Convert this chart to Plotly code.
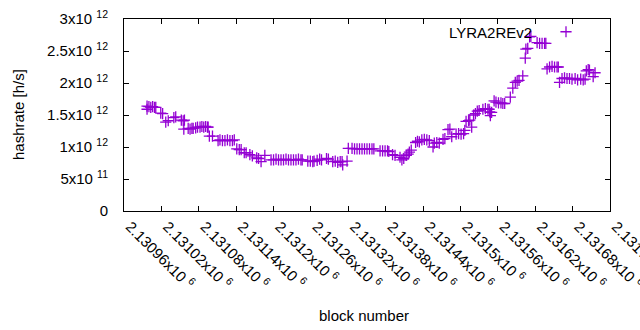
import plotly.graph_objects as go

# ---- data (block number, hashrate in units of 1e12 h/s) ----
blocks = [
    2130997, 2130997, 2131000, 2131003, 2131006, 2131009, 2131011,
    2131019, 2131022,
    2131027, 2131031,
    2131040, 2131043,
    2131052, 2131055, 2131057,
    2131056, 2131063, 2131066, 2131069, 2131071, 2131075, 2131078,
    2131082, 2131085, 2131088, 2131091, 2131094, 2131095,
    2131097, 2131102,
    2131111, 2131114, 2131118, 2131122, 2131126, 2131130, 2131134, 2131137,
    2131141, 2131145, 2131148,
    2131153, 2131156,
    2131162, 2131166,
    2131173, 2131176, 2131180,
    2131186,
    2131196, 2131200, 2131204, 2131208, 2131212, 2131216, 2131220, 2131224,
    2131228, 2131232, 2131236, 2131240, 2131244, 2131246,
    2131255, 2131259, 2131263, 2131265,
    2131270, 2131274, 2131277,
    2131285, 2131288, 2131295, 2131299, 2131303, 2131307, 2131310, 2131311, 2131318,
    2131320, 2131326, 2131330, 2131334, 2131338, 2131342, 2131346, 2131350,
    2131354, 2131358, 2131361,
    2131371, 2131375, 2131379, 2131383, 2131385,
    2131391, 2131395,
    2131403, 2131406, 2131409,
    2131413, 2131416, 2131418, 2131421,
    2131428, 2131431, 2131434,
    2131438, 2131442, 2131446, 2131450,
    2131456, 2131458, 2131462, 2131466,
    2131472, 2131475,
    2131480, 2131483,
    2131486, 2131493, 2131497, 2131501, 2131505,
    2131507,
    2131518,
    2131509, 2131513, 2131515,
    2131521, 2131524,
    2131527, 2131530,
    2131536, 2131540, 2131544, 2131546,
    2131547, 2131550, 2131548,
    2131554,
    2131557, 2131561, 2131565, 2131568, 2131571,
    2131580, 2131584,
    2131588, 2131591, 2131594,
    2131600, 2131604, 2131605, 2131608, 2131611, 2131613,
    2131623, 2131627, 2131631, 2131635, 2131637,
    2131639, 2131643, 2131647, 2131651, 2131655, 2131657,
    2131659, 2131663, 2131667, 2131671, 2131675, 2131679, 2131684,
    2131688, 2131693, 2131697, 2131700,
    2131702, 2131705, 2131707,
    2131713, 2131716,
]

hashrate_e12 = [
    1.64, 1.59, 1.63, 1.62, 1.63, 1.62, 1.62,
    1.53, 1.52,
    1.39, 1.41,
    1.46, 1.47,
    1.42, 1.41, 1.42,
    1.28, 1.29, 1.28, 1.29, 1.29, 1.30, 1.31,
    1.31, 1.32, 1.31, 1.32, 1.31, 1.31,
    1.17, 1.17,
    1.10, 1.11, 1.10, 1.10, 1.11, 1.10, 1.10, 1.11,
    0.97, 0.96, 0.96,
    0.91, 0.91,
    0.88, 0.86,
    0.83, 0.82, 0.77,
    0.87,
    0.80, 0.80, 0.81, 0.80, 0.80, 0.80, 0.81, 0.80,
    0.80, 0.80, 0.80, 0.81, 0.80, 0.80,
    0.78, 0.78, 0.77, 0.78,
    0.79, 0.81, 0.80,
    0.82, 0.81, 0.77, 0.78, 0.76, 0.77, 0.77, 0.72, 0.78,
    0.98, 0.98, 0.97, 0.97, 0.97, 0.97, 0.97, 0.97,
    0.97, 0.97, 0.97,
    0.94, 0.94, 0.94, 0.94, 0.93,
    0.88, 0.87,
    0.84, 0.80, 0.82,
    0.87, 0.89, 0.92, 0.95,
    1.07, 1.09, 1.08,
    1.11, 1.12, 1.11, 1.10,
    1.00, 1.06, 1.07, 1.06,
    1.12, 1.13,
    1.27, 1.28,
    1.16, 1.20, 1.21, 1.20, 1.21,
    1.26,
    1.31,
    1.40, 1.41, 1.42,
    1.50, 1.52,
    1.56, 1.57,
    1.59, 1.60, 1.59, 1.59,
    1.55, 1.54, 1.49,
    1.72,
    1.70, 1.69, 1.69, 1.68, 1.68,
    1.78, 1.92,
    2.01, 2.03, 2.04,
    2.11, 2.39, 2.53, 2.54, 2.72, 2.73,
    2.63, 2.62, 2.62, 2.62, 2.62,
    2.22, 2.25, 2.26, 2.25, 2.25, 2.25,
    2.01, 2.07, 2.08, 2.07, 2.07, 2.06, 2.07,
    2.05, 2.06, 2.05, 2.06,
    2.19, 2.21, 2.20,
    2.10, 2.16,
]

series_name = "LYRA2REv2"

x_tick_values = [2130960 + 60 * k for k in range(14)]
x_tick_labels = ["2.13096", "2.13102", "2.13108", "2.13114", "2.1312", "2.13126",
                 "2.13132", "2.13138", "2.13144", "2.1315", "2.13156", "2.13162",
                 "2.13168", "2.13174"]
y_tick_values = [0, 0.5e12, 1e12, 1.5e12, 2e12, 2.5e12, 3e12]
y_tick_labels = ["0", "5x10 <sup>11</sup>", "1x10 <sup>12</sup>", "1.5x10 <sup>12</sup>",
                 "2x10 <sup>12</sup>", "2.5x10 <sup>12</sup>", "3x10 <sup>12</sup>"]

PURPLE = "#9400D3"
FONT = "Liberation Sans, Arial, sans-serif"
FS = 15

hashrate = [v * 1e12 for v in hashrate_e12]

# plot area in pixels: left 124, right 610, top 19, bottom 211
L, R, T, B = 124, 610, 19, 211
PW, PH = R - L, B - T

fig = go.Figure()
fig.add_trace(go.Scatter(
    x=blocks, y=hashrate, mode="markers", name=" ",
    marker=dict(symbol="cross-thin", size=8, color=PURPLE,
                line=dict(color=PURPLE, width=1.3)),
    showlegend=True,
))

fig.update_layout(
    width=640, height=330,
    margin=dict(l=L, r=640 - R, t=T, b=330 - B, pad=0),
    paper_bgcolor="white", plot_bgcolor="white",
    font=dict(family=FONT, size=FS, color="black"),
    showlegend=True,
    legend=dict(x=(546 - L) / PW, y=(B - 32) / PH, xanchor="left", yanchor="middle",
                bgcolor="rgba(0,0,0,0)", font=dict(size=FS), itemwidth=30),
    xaxis=dict(
        range=[2130960, 2131740], tickmode="array",
        tickvals=x_tick_values,
        ticktext=[t + "x10 <sup>6</sup>" for t in x_tick_labels],
        tickangle=45, ticks="inside", ticklen=5, tickcolor="black",
        showline=True, linecolor="black", linewidth=1, mirror="ticks",
        showgrid=False, zeroline=False, automargin=False,
        ticklabeloverflow="allow", ticklabelshift=6,
        tickfont=dict(family=FONT, size=FS),
    ),
    yaxis=dict(
        range=[0, 3e12], tickmode="array",
        tickvals=y_tick_values, ticktext=y_tick_labels,
        ticks="inside", ticklen=5, tickcolor="black",
        showline=True, linecolor="black", linewidth=1, mirror="ticks",
        showgrid=False, zeroline=False, automargin=False,
        tickfont=dict(family=FONT, size=FS), ticklabelstandoff=12,
    ),
    annotations=[
        dict(text=series_name, xref="paper", yref="paper", x=(534 - L) / PW,
             y=(B - 32) / PH, xanchor="right", yanchor="middle",
             showarrow=False, font=dict(family=FONT, size=FS)),
        dict(text="block number", xref="paper", yref="paper", x=(364 - L) / PW,
             y=(B - 315) / PH, xanchor="center", yanchor="middle",
             showarrow=False, font=dict(family=FONT, size=FS)),
        dict(text="hashrate [h/s]", xref="paper", yref="paper", x=(18 - L) / PW,
             y=0.5, xanchor="center", yanchor="middle", textangle=-90,
             showarrow=False, font=dict(family=FONT, size=FS)),
    ],
)

fig.write_html("out.html", post_script="document.body.style.margin='0';",
               config={"displayModeBar": False})
